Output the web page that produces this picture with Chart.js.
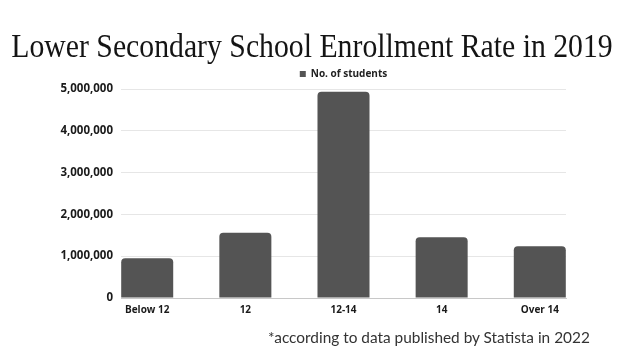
<!DOCTYPE html>
<html>
<head>
<meta charset="utf-8">
<script src="https://cdn.jsdelivr.net/npm/chart.js@4/dist/chart.umd.min.js"></script>
<style>
  html, body { margin: 0; padding: 0; background: #ffffff; }
  #wrap { position: relative; width: 624px; height: 364px; overflow: hidden; }
  #title {
    position: absolute; left: -100px; top: 27px; width: 824px; text-align: center;
    font-family: "Liberation Serif", serif; font-size: 34px; color: #141414; white-space: nowrap;
    transform: scaleX(0.875); transform-origin: 50% 50%;
  }
  #note {
    position: absolute; left: 268px; top: 328px; white-space: nowrap;
    font-family: Lato, sans-serif; font-size: 15.4px; color: #333333;
  }
</style>
</head>
<body>
<div id="wrap">
  <canvas id="chart" width="624" height="364"></canvas>
  <div id="title">Lower Secondary School Enrollment Rate in 2019</div>
  <div id="note">*according to data published by Statista in 2022</div>
</div>
<script>
const categories = ['Below 12', '12', '12-14', '14', 'Over 14'];
const students = [950000, 1560000, 4935000, 1455000, 1240000];
const yTicks = [0, 1000000, 2000000, 3000000, 4000000, 5000000];

const labelFamily = '"Open Sans", sans-serif';

new Chart(document.getElementById('chart'), {
    type: 'bar',
    data: {
        datasets: [{
            label: 'No. of students',
            data: categories.map((c, i) => ({ x: i, y: students[i] })),
            backgroundColor: '#545454',
            borderRadius: 4,
            categoryPercentage: 1,
            barPercentage: 0.53
        }]
    },
    options: {
        responsive: false,
        animation: false,
        layout: { padding: { left: 0, right: 58, top: 59, bottom: 42 } },
        plugins: {
            tooltip: { enabled: false },
            legend: {
                display: true,
                fullSize: false,
                labels: {
                    boxWidth: 6, boxHeight: 6, padding: 10,
                    color: '#222222',
                    font: { family: labelFamily, size: 10, weight: 'bold' }
                }
            }
        },
        scales: {
            x: {
                type: 'linear',
                offset: false,
                min: -0.267, max: 4.267,
                grid: { display: false, drawTicks: false },
                border: { display: true, color: '#c8c8c8', width: 1 },
                ticks: {
                    stepSize: 1, includeBounds: false, padding: 6,
                    color: '#1a1a1a', font: { family: labelFamily, size: 10, weight: 'bold' },
                    callback: v => categories[v]
                }
            },
            y: {
                min: 0, max: 5000000,
                afterFit: s => { s.width = 121; },
                afterBuildTicks: s => { s.ticks = yTicks.map(v => ({ value: v })); },
                grid: { color: '#e6e6e6', lineWidth: 1, drawTicks: false },
                border: { display: false },
                ticks: {
                    padding: 8, color: '#1a1a1a', font: { family: labelFamily, size: 11.5, weight: 'bold' },
                    callback: v => v.toLocaleString('en-US')
                }
            }
        }
    }
});
</script>
</body>
</html>
